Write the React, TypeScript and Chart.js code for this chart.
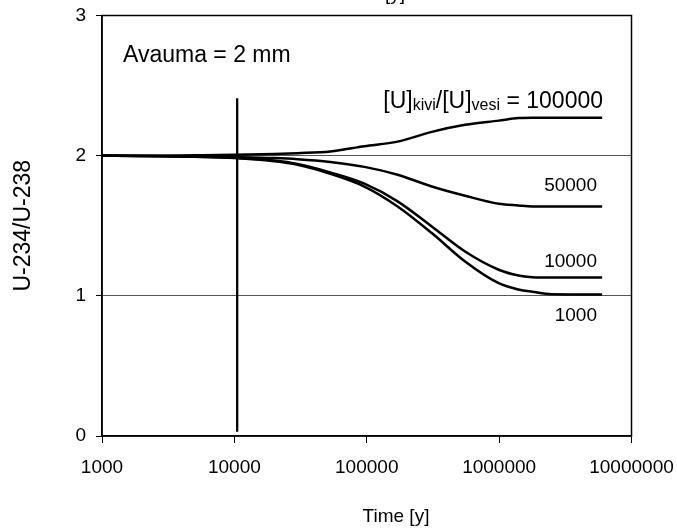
import React, { useEffect, useRef } from "react";
import { Chart, registerables } from "chart.js";

Chart.register(...registerables);

const times = [1000, 2000, 5000, 10000, 20000, 30000, 53000, 96000, 171000, 310000, 553000, 993000, 1400000, 1780000, 2500000, 6000000];
const ratio100000 = [2.0, 2.0, 2.003, 2.006, 2.012, 2.018, 2.03, 2.067, 2.1, 2.17, 2.22, 2.25, 2.268, 2.27, 2.27, 2.27];
const ratio50000 = [2.0, 1.998, 1.995, 1.99, 1.983, 1.975, 1.955, 1.92, 1.864, 1.78, 1.714, 1.657, 1.645, 1.638, 1.637, 1.637];
const ratio10000 = [2.0, 1.998, 1.993, 1.985, 1.965, 1.94, 1.88, 1.8, 1.674, 1.495, 1.316, 1.186, 1.145, 1.133, 1.13, 1.13];
const ratio1000 = [2.0, 1.998, 1.992, 1.983, 1.96, 1.935, 1.871, 1.78, 1.638, 1.448, 1.245, 1.09, 1.045, 1.029, 1.012, 1.01];
const markerX = [10500, 10500];
const markerY = [0.03, 2.41];
const xTickValues = [1000, 10000, 100000, 1000000, 10000000];
const yTickValues = [0, 1, 2, 3];
const seriesLabels = ["100000", "50000", "10000", "1000"];

const FONT = '"Liberation Sans", Arial, sans-serif';

const textPlugin = {
  id: "texts",
  afterDraw(chart: any) {
    const { ctx, chartArea } = chart;
    ctx.save();
    ctx.strokeStyle = "#000";
    ctx.lineWidth = 1.5;
    ctx.strokeRect(chartArea.left, chartArea.top, chartArea.right - chartArea.left, chartArea.bottom - chartArea.top);

    ctx.fillStyle = "#000";
    ctx.textBaseline = "alphabetic";
    ctx.textAlign = "left";
    ctx.font = `23px ${FONT}`;
    ctx.fillText("Avauma = 2 mm", 123, 62);

    const segs: [string, number, number][] = [
      ["[U]", 23, 0],
      ["kivi", 16, 2],
      ["/[U]", 23, 0],
      ["vesi", 16, 2],
      [" = 100000", 23, 0],
    ];
    let total = 0;
    for (const [t, s] of segs) {
      ctx.font = `${s}px ${FONT}`;
      total += ctx.measureText(t).width;
    }
    let x = 603 - total;
    for (const [t, s, dy] of segs) {
      ctx.font = `${s}px ${FONT}`;
      ctx.fillText(t, x, 108 + dy);
      x += ctx.measureText(t).width;
    }

    ctx.textAlign = "right";
    ctx.font = `19px ${FONT}`;
    ctx.fillText(seriesLabels[1], 597, 191);
    ctx.fillText(seriesLabels[2], 597, 267);
    ctx.fillText(seriesLabels[3], 597, 321);

    ctx.textAlign = "center";
    ctx.fillText("Time [y]", 396, 522);
    ctx.fillText("[y]", 395, 0);
    ctx.restore();
  },
};

export default function App() {
  const ref = useRef<HTMLCanvasElement | null>(null);
  useEffect(() => {
    if (!ref.current) return;
    const mk = (vals: number[]) => times.map((t, i) => ({ x: t, y: vals[i] }));
    const lineStyle = {
      borderColor: "#000",
      borderWidth: 2.5,
      pointRadius: 0,
      fill: false,
      cubicInterpolationMode: "monotone" as const,
    };
    const chart = new Chart(ref.current, {
      type: "line",
      data: {
        datasets: [
          { label: seriesLabels[0], data: mk(ratio100000), ...lineStyle },
          { label: seriesLabels[1], data: mk(ratio50000), ...lineStyle },
          { label: seriesLabels[2], data: mk(ratio10000), ...lineStyle },
          { label: seriesLabels[3], data: mk(ratio1000), ...lineStyle },
          {
            label: "marker",
            data: markerX.map((v, i) => ({ x: v, y: markerY[i] })),
            borderColor: "#000",
            borderWidth: 2.3,
            pointRadius: 0,
            fill: false,
          },
        ],
      },
      options: {
        animation: false,
        responsive: false,
        maintainAspectRatio: false,
        layout: { padding: { left: 0, right: 45.5, top: 15.5, bottom: 0 } },
        plugins: {
          legend: { display: false },
          tooltip: { enabled: false },
          title: { display: false },
        },
        scales: {
          x: {
            type: "logarithmic",
            min: 1000,
            max: 10000000,
            afterBuildTicks: (s: any) => {
              s.ticks = xTickValues.map((v) => ({ value: v }));
            },
            afterFit: (s: any) => {
              s.height = 93;
              s.paddingLeft = 0;
              s.paddingRight = 0;
            },
            ticks: {
              autoSkip: false,
              maxRotation: 0,
              color: "#000",
              font: { family: FONT, size: 19 },
              padding: 13,
              callback: (v: any) => String(v),
            },
            grid: {
              drawOnChartArea: false,
              drawTicks: true,
              tickLength: 7,
              tickColor: "#000",
            },
            border: { display: true, color: "#000", width: 1.5 },
            title: { display: false },
          },
          y: {
            type: "linear",
            min: 0,
            max: 3,
            afterBuildTicks: (s: any) => {
              s.ticks = yTickValues.map((v) => ({ value: v }));
            },
            afterFit: (s: any) => {
              s.width = 102;
              s.paddingTop = 0;
              s.paddingBottom = 0;
            },
            ticks: {
              color: "#000",
              font: { family: FONT, size: 19 },
              padding: 10,
            },
            grid: {
              drawOnChartArea: true,
              drawTicks: true,
              tickLength: 6,
              tickColor: "#000",
              color: (c: any) => (c.tick && (c.tick.value === 1 || c.tick.value === 2) ? "#555" : "rgba(0,0,0,0)"),
              lineWidth: 1,
            },
            border: { display: true, color: "#000", width: 1.5 },
            title: {
              display: true,
              text: "U-234/U-238",
              color: "#000",
              font: { family: FONT, size: 23 },
              padding: { top: 10, bottom: 0 },
            },
          },
        },
      },
      plugins: [textPlugin],
    });
    return () => chart.destroy();
  }, []);
  return (
    <div style={{ position: "fixed", left: 0, top: 0, width: 677, height: 529, background: "#fff" }}>
      <canvas ref={ref} width={677} height={529} style={{ width: 677, height: 529, display: "block" }} />
    </div>
  );
}
